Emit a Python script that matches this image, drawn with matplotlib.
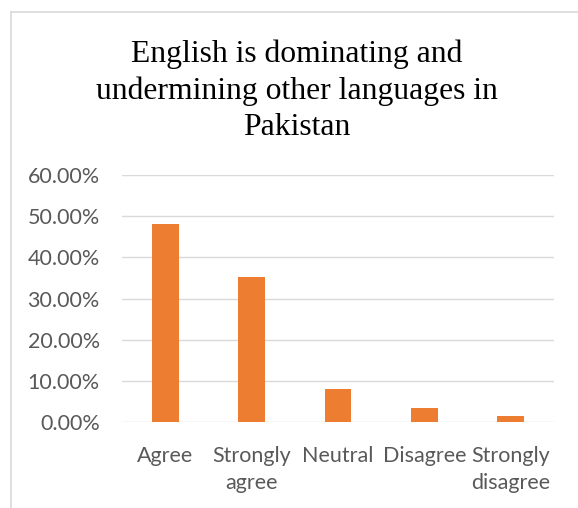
import matplotlib
matplotlib.use("Agg")
import matplotlib.pyplot as plt
from matplotlib.lines import Line2D
from matplotlib.ticker import FuncFormatter

categories = ["Agree", "Strongly\nagree", "Neutral", "Disagree", "Strongly\ndisagree"]
values = [0.48, 0.353, 0.080, 0.034, 0.016]
yticks = [0.0, 0.1, 0.2, 0.3, 0.4, 0.5, 0.6]
title_lines = ["English is dominating and", "undermining other languages in", "Pakistan"]

W, H = 578, 508
fig = plt.figure(figsize=(W / 100, H / 100), dpi=100)
fig.patch.set_facecolor("white")

ax = fig.add_axes([122 / W, 1 - 422.3 / H, (554 - 122) / W, (422.3 - 175) / H])
x = list(range(len(categories)))
ax.bar(x, values, width=0.31, color="#ED7D31", zorder=3)
ax.set_xlim(-0.5, len(categories) - 0.5)
ax.set_ylim(0, 0.6)
ax.set_yticks(yticks)
ax.yaxis.set_major_formatter(FuncFormatter(lambda v, p: f"{v * 100:.2f}%"))
ax.set_xticks(x)
ax.set_xticklabels(categories, linespacing=1.42)
for s in ax.spines.values():
    s.set_visible(False)
ax.grid(axis="y", color="#D9D9D9", linewidth=1.0, zorder=0)
ax.tick_params(axis="both", length=0, labelcolor="#595959", labelsize=15.5)
ax.tick_params(axis="y", pad=16)
ax.tick_params(axis="x", pad=17)
for lab in ax.get_xticklabels() + ax.get_yticklabels():
    lab.set_family("Lato")

# title
baselines = [62, 98.5, 135]
for line, b in zip(title_lines, baselines):
    fig.text(297 / W, 1 - b / H, line, ha="center", va="baseline",
             family="Liberation Serif", fontsize=22.8, color="black")

# chart area border (left and top visible)
fig.add_artist(Line2D([10.5 / W, 10.5 / W], [0, 1 - 12 / H], transform=fig.transFigure,
                      color="#D9D9D9", linewidth=1.2))
fig.add_artist(Line2D([10.5 / W, 1], [1 - 12 / H, 1 - 12 / H], transform=fig.transFigure,
                      color="#D9D9D9", linewidth=1.2))

fig.savefig("out.png", dpi=100, facecolor="white")
